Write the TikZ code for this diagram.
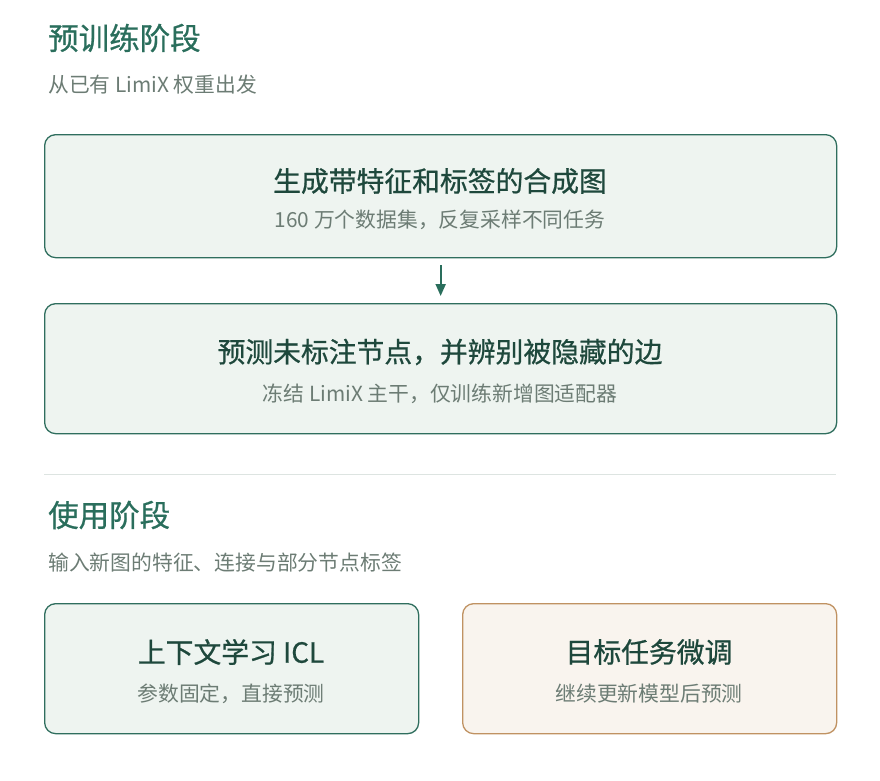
\documentclass[tikz,border=0pt]{standalone}
\usepackage{xcolor}
\usepackage{fontspec}
\usetikzlibrary{arrows.meta}
\setmainfont{Noto Sans CJK SC}
\newfontfamily\medfont[FakeBold=0.7]{Noto Sans CJK SC}
\definecolor{stagegreen}{RGB}{42,110,92}
\definecolor{titledark}{RGB}{30,72,60}
\definecolor{subgray}{RGB}{108,124,116}
\definecolor{boxgreen}{RGB}{238,244,240}
\definecolor{boxline}{RGB}{47,110,94}
\definecolor{boxcream}{RGB}{249,244,238}
\definecolor{creamline}{RGB}{192,146,98}
\definecolor{rulegray}{RGB}{221,228,225}
\tikzset{
  stagebox/.style={draw=boxline,fill=boxgreen,line width=1.3pt,rounded corners=11pt,anchor=north west},
  boxtitle/.style={text=titledark,font=\medfont\fontsize{27.8}{32}\selectfont},
  boxsub/.style={text=subgray,font=\fontsize{20.8}{24}\selectfont},
  heading/.style={anchor=west,inner sep=0pt,text=stagegreen,font=\medfont\fontsize{30.5}{36}\selectfont},
  headsub/.style={anchor=west,inner sep=0pt,text=subgray,font=\fontsize{20.8}{24}\selectfont}
}

\begin{document}
\begin{tikzpicture}[x=1pt,y=-1pt]
\useasboundingbox (0,0) rectangle (880,780);
% Pre-training stage
\node[heading] (pretrain) at (48,38) {预训练阶段};
\node[headsub] (pretrainsub) at (48,85) {从已有 LimiX 权重出发};

\node[stagebox,minimum width=792pt,minimum height=123pt] (gen) at (44,134) {};
\node[boxtitle] at (440,181) {生成带特征和标签的合成图};
\node[boxsub] at (440,220) {160 万个数据集，反复采样不同任务};

\node[stagebox,minimum width=792pt,minimum height=130pt] (pred) at (44,303) {};
\node[boxtitle] at (440,352) {预测未标注节点，并辨别被隐藏的边};
\node[boxsub] at (440,394) {冻结 LimiX 主干，仅训练新增图适配器};

\draw[-{Stealth[length=12pt,width=10pt,inset=0pt]},line width=2pt,stagegreen,shorten <=7pt,shorten >=7pt] (gen.south) -- (pred.north);

% divider
\draw[rulegray,line width=1pt] (44,474) coordinate (ruleL) -- (836,474) coordinate (ruleR);

% Usage stage
\node[heading] (usage) at (48,515) {使用阶段};
\node[headsub] (usagesub) at (48,563) {输入新图的特征、连接与部分节点标签};

\node[stagebox,minimum width=374pt,minimum height=130pt] (icl) at (44,603) {};
\node[boxtitle] at (231,652) {上下文学习 ICL};
\node[boxsub] at (231,694) {参数固定，直接预测};

\node[stagebox,draw=creamline,fill=boxcream,minimum width=374pt,minimum height=130pt] (tune) at (462,603) {};
\node[boxtitle] at (649,652) {目标任务微调};
\node[boxsub] at (649,694) {继续更新模型后预测};
\end{tikzpicture}
\end{document}
